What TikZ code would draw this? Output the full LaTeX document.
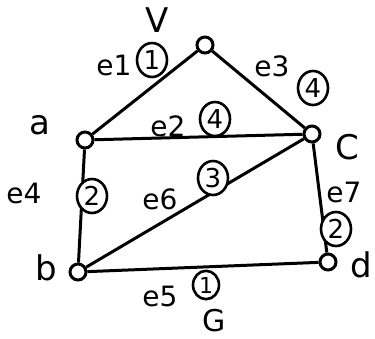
\documentclass[tikz,border=0pt]{standalone}
\usepackage{fontspec}
\setmainfont{DejaVu Sans}
\usetikzlibrary{shapes.geometric}
\begin{document}
\begin{tikzpicture}[x=1pt,y=-1pt,
  vert/.style={circle,draw,line width=3pt,fill=white,minimum size=16pt,inner sep=0pt},
  edge/.style={line width=3pt},
  wt/.style={ellipse,draw,line width=2.6pt,fill=white,inner sep=2pt,minimum width=30pt,minimum height=34pt,font=\fontsize{26}{26}\selectfont},
  lbl/.style={font=\fontsize{34}{34}\selectfont},
  elbl/.style={font=\fontsize{28}{28}\selectfont}]
\useasboundingbox (0,0) rectangle (375,338);
\node[vert] (v) at (205,45) {};
\node[vert] (a) at (85,140) {};
\node[vert] (c) at (312,134) {};
\node[vert] (b) at (78,272) {};
\node[vert] (d) at (328,262) {};
\draw[edge] (v) -- (a);
\draw[edge] (v) -- (c);
\draw[edge] (a) -- (c);
\draw[edge] (a) -- (b);
\draw[edge] (b) -- (c);
\draw[edge] (c) -- (d);
\draw[edge] (b) -- (d);
\node[lbl] (lv) at (157,20) {V};
\node[lbl] (la) at (40,125) {a};
\node[lbl] (lc) at (347,147) {C};
\node[lbl] (lb) at (46,268) {b};
\node[lbl] (ld) at (361,265) {d};
\node[lbl,font=\fontsize{30}{30}\selectfont] (lg) at (214,321) {G};
\node[elbl] (e1) at (114,65) {e1};
\node[wt] (w1) at (152,60) {1};
\node[elbl] (e2) at (168,126) {e2};
\node[wt] (w2) at (215,119) {4};
\node[elbl] (e3) at (272,66) {e3};
\node[wt] (w3) at (313,88) {4};
\node[elbl] (e4) at (24,193) {e4};
\node[wt] (w4) at (92,196) {2};
\node[elbl] (e6) at (160,199) {e6};
\node[wt] (w6) at (213,178) {3};
\node[elbl] (e7) at (344,192) {e7};
\node[wt] (w7) at (336,229) {2};
\node[elbl] (e5) at (160,296) {e5};
\node[wt,minimum width=26pt,minimum height=28pt,font=\fontsize{22}{22}\selectfont] (w5) at (206,285) {1};
\end{tikzpicture}
\end{document}
